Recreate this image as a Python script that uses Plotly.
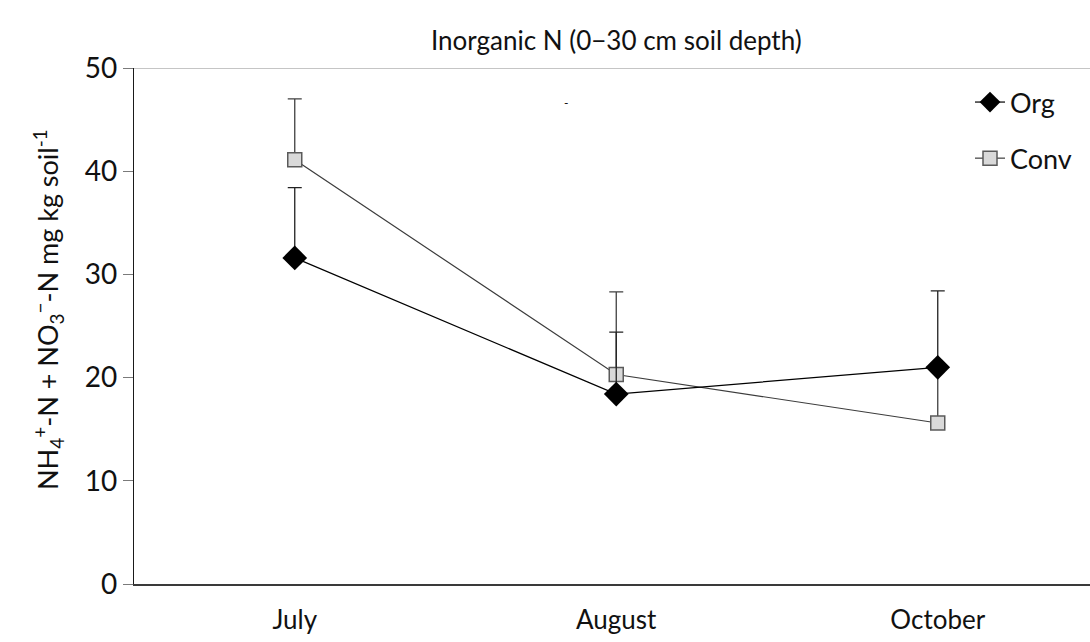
import plotly.graph_objects as go

months = ["July", "August", "October"]
org = [31.6, 18.4, 21.0]
org_err = [6.8, 6.0, 7.4]
conv = [41.1, 20.3, 15.6]
conv_err = [5.9, 8.0, 5.8]
yticks = [0, 10, 20, 30, 40, 50]

W, H = 1090, 642
L, T, B = 134, 68, 58
plot_w = W - L
plot_h = H - T - B

FONT = "Lato, 'Open Sans', sans-serif"

fig = go.Figure()
fig.add_trace(go.Scatter(
    x=months, y=conv, name="Conv", mode="lines+markers",
    line=dict(color="#3c3c3c", width=1.2),
    marker=dict(symbol="square", size=14, color="#d9d9d9",
                line=dict(color="#5a5a5a", width=1.5)),
    error_y=dict(type="data", array=conv_err, arrayminus=[0, 0, 0],
                 symmetric=False, color="#404040", thickness=1.3, width=7),
    legendgroup="b", legendrank=2,
))
fig.add_trace(go.Scatter(
    x=months, y=org, name="Org", mode="lines+markers",
    line=dict(color="#000000", width=1.2),
    marker=dict(symbol="diamond", size=19, color="#000000",
                line=dict(color="#000000", width=0)),
    error_y=dict(type="data", array=org_err, arrayminus=[0, 0, 0],
                 symmetric=False, color="#222222", thickness=1.3, width=7),
    legendgroup="a", legendrank=1,
))

# top line at 50
fig.add_shape(type="line", xref="paper", yref="y", x0=0, x1=1, y0=50, y1=50,
              line=dict(color="#8c8c8c", width=1.2), layer="below")

fig.add_annotation(text="Inorganic N (0\u221230 cm soil depth)",
                   xref="paper", yref="paper",
                   x=(616 - L) / plot_w, y=(H - B - 40) / plot_h,
                   xanchor="center", yanchor="middle", showarrow=False,
                   font=dict(family=FONT, size=26, color="#111111"))

fig.add_annotation(
    text="NH<sub>4</sub><sup>+</sup>-N + NO<sub>3</sub><sup>\u2212</sup>-N mg kg soil<sup>-1</sup>",
    xref="paper", yref="paper",
    x=(48 - L) / plot_w, y=(H - B - 310) / plot_h,
    xanchor="center", yanchor="middle", textangle=-90, showarrow=False,
    font=dict(family=FONT, size=27, color="#111111"))

fig.add_annotation(text="-", xref="paper", yref="paper",
                   x=(566 - L) / plot_w, y=(H - B - 102) / plot_h,
                   showarrow=False, xanchor="center", yanchor="middle",
                   font=dict(family=FONT, size=12, color="#000000"))

fig.update_layout(
    width=W, height=H,
    margin=dict(l=L, r=0, t=T, b=B, autoexpand=False),
    paper_bgcolor="white", plot_bgcolor="white",
    font=dict(family=FONT, color="#111111"),
    showlegend=True,
    legend=dict(x=(970 - L) / plot_w, y=(H - B - 78) / plot_h,
                xanchor="left", yanchor="top",
                font=dict(family=FONT, size=27, color="#111111"),
                traceorder="grouped", tracegroupgap=18,
                bgcolor="rgba(0,0,0,0)", itemwidth=30),
    xaxis=dict(type="category", range=[-0.5, -0.5 + plot_w / 321.5],
               showline=True, linecolor="#3a3a3a", linewidth=1.5,
               showgrid=False, ticks="outside", ticklen=12,
               tickcolor="rgba(0,0,0,0)",
               tickfont=dict(family=FONT, size=26, color="#111111"),
               zeroline=False, fixedrange=True),
    yaxis=dict(range=[0, 50], tickvals=yticks, showline=True,
               linecolor="#1a1a1a", linewidth=1.2, showgrid=False,
               ticks="outside", ticklen=10, tickcolor="#7a7a7a",
               tickfont=dict(family=FONT, size=28, color="#111111"),
               zeroline=False, fixedrange=True),
)

fig.write_html("out.html")
